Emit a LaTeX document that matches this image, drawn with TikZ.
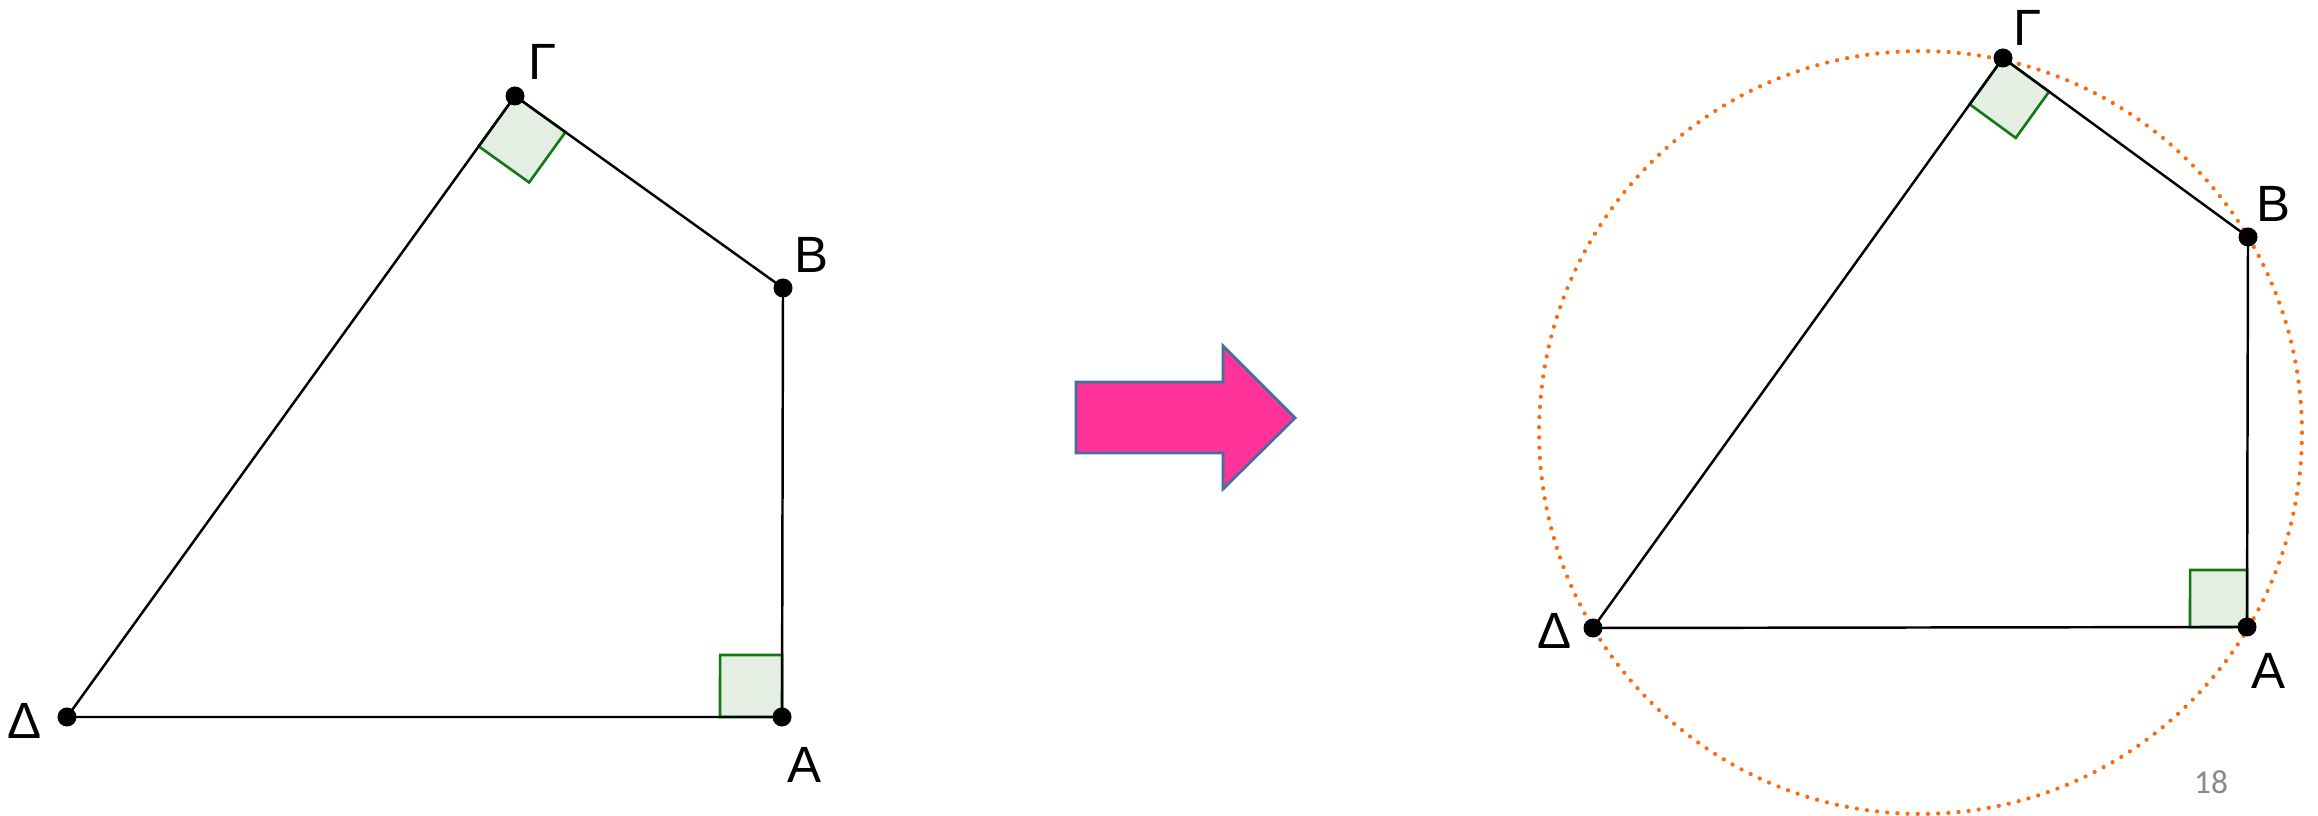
\documentclass[tikz,border=0pt]{standalone}
\usepackage{fontspec}
\setmainfont{Liberation Sans}
\newfontfamily\pagefont{Carlito}
\usetikzlibrary{calc}
\definecolor{anglefill}{RGB}{228,238,226}
\definecolor{angleline}{RGB}{20,120,20}
\definecolor{arrowpink}{RGB}{255,51,153}
\definecolor{arrowedge}{RGB}{65,113,156}
\definecolor{circorange}{RGB}{255,105,10}
\definecolor{pagegray}{RGB}{137,137,137}

\begin{document}
\begin{tikzpicture}[x=0.01cm, y=-0.01cm,
    side/.style={line width=0.7pt},
    dot/.style={fill=black},
    lbl/.style={font=\fontsize{14.5}{16}\selectfont, inner sep=0pt},
    rightmark/.style={fill=anglefill, draw=angleline, line width=0.75pt}]
    \useasboundingbox (0,0) rectangle (2318,816);
    % left quadrilateral
    \coordinate (G1) at (515,96);
    \coordinate (B1) at (783,288);
    \coordinate (A1) at (782,717);
    \coordinate (D1) at (67,717);
    \coordinate (g1) at ($(G1)!0.62cm!(D1)$);
    \coordinate (g2) at ($(G1)!0.62cm!(B1)$);
    \coordinate (a1) at ($(A1)!0.62cm!(D1)$);
    \coordinate (a2) at ($(A1)!0.62cm!(B1)$);
    \draw[rightmark] (G1) -- (g1) -- ($(g1)+(g2)-(G1)$) -- (g2) -- cycle;
    \draw[rightmark] (A1) -- (a1) -- ($(a1)+(a2)-(A1)$) -- (a2) -- cycle;
    \draw[side] (D1) -- (G1) -- (B1) -- (A1) -- cycle;
    \foreach \p in {G1,B1,A1,D1} \fill[dot] (\p) circle[radius=0.095cm];
    \node[lbl] (lG1) at (543,62) {Γ};
    \node[lbl] (lB1) at (811,255) {B};
    \node[lbl] (lA1) at (804,765) {A};
    \node[lbl] (lD1) at (25,721) {Δ};

    % block arrow
    \draw[fill=arrowpink, draw=arrowedge, line width=0.8pt]
        (1076,382) -- (1223,382) -- (1223,346) -- (1295,418)
        -- (1223,489) -- (1223,453) -- (1076,453) -- cycle;

    % right quadrilateral with its circle
    \coordinate (G2) at (2003,58);
    \coordinate (B2) at (2248,237);
    \coordinate (A2) at (2247,627);
    \coordinate (D2) at (1593,628);
    \coordinate (g3) at ($(G2)!0.57cm!(D2)$);
    \coordinate (g4) at ($(G2)!0.57cm!(B2)$);
    \coordinate (a3) at ($(A2)!0.57cm!(D2)$);
    \coordinate (a4) at ($(A2)!0.57cm!(B2)$);
    \draw[rightmark] (G2) -- (g3) -- ($(g3)+(g4)-(G2)$) -- (g4) -- cycle;
    \draw[rightmark] (A2) -- (a3) -- ($(a3)+(a4)-(A2)$) -- (a4) -- cycle;
    \draw[circorange, line width=1.2pt, line cap=round, dash pattern=on 0pt off 2.9pt]
        let \p1 = ($(B2)-(D2)$), \n1 = {veclen(\x1,\y1)/2} in
        ($(B2)!0.5!(D2)$) circle[radius=\n1];
    \draw[side] (D2) -- (G2) -- (B2) -- (A2) -- cycle;
    \foreach \p in {G2,B2,A2,D2} \fill[dot] (\p) circle[radius=0.095cm];
    \node[lbl] (lG2) at (2028,28) {Γ};
    \node[lbl] (lB2) at (2273,204) {B};
    \node[lbl] (lA2) at (2268,671) {A};
    \node[lbl] (lD2) at (1555,631) {Δ};

    \node[font=\pagefont\fontsize{9.5}{11}\selectfont, text=pagegray, inner sep=0pt] (page) at (2211,782) {18};
\end{tikzpicture}
\end{document}
